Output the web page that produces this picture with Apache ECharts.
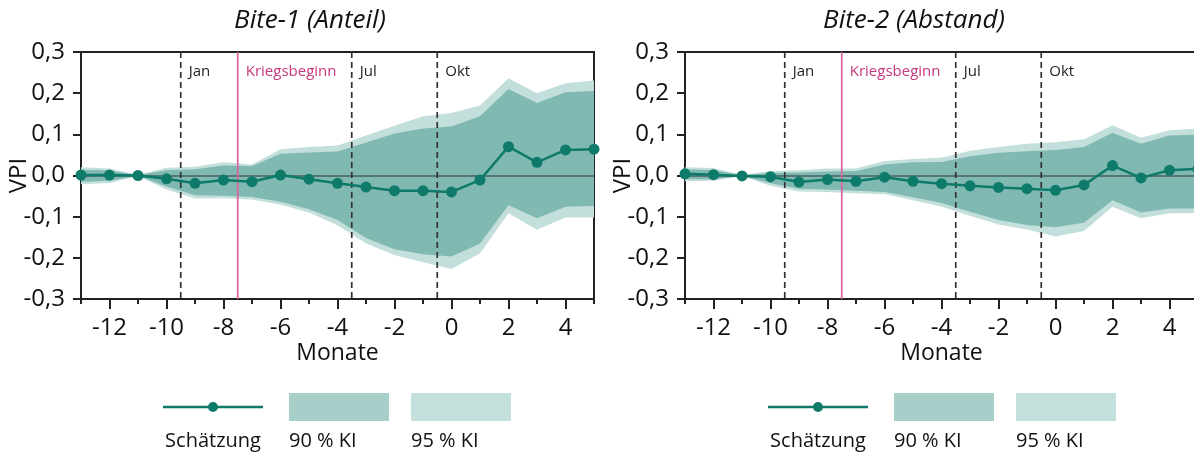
<!DOCTYPE html>
<html>
<head>
<meta charset="utf-8">
<script src="https://cdn.jsdelivr.net/npm/echarts@6/dist/echarts.min.js"></script>
<style>
html,body{margin:0;padding:0;background:#fff;}
#c{width:1194px;height:454px;}
</style>
</head>
<body>
<div id="c"></div>
<script>
// ---- data ----
const months = [-13,-12,-11,-10,-9,-8,-7,-6,-5,-4,-3,-2,-1,0,1,2,3,4,5];
const titles = ['Bite-1 (Anteil)', 'Bite-2 (Abstand)'];

const bite1Est  = [0.001, 0.001, 0.000, -0.008, -0.019, -0.011, -0.015, 0.001, -0.009, -0.019, -0.028, -0.037, -0.037, -0.040, -0.011, 0.070, 0.032, 0.062, 0.064];
const bite1Hi95 = [0.020, 0.017, 0.001, 0.019, 0.021, 0.032, 0.027, 0.064, 0.069, 0.073, 0.097, 0.121, 0.144, 0.152, 0.170, 0.236, 0.200, 0.224, 0.231];
const bite1Hi90 = [0.014, 0.012, 0.001, 0.013, 0.015, 0.024, 0.023, 0.053, 0.056, 0.058, 0.080, 0.102, 0.114, 0.119, 0.144, 0.210, 0.176, 0.202, 0.205];
const bite1Lo90 = [-0.015, -0.013, -0.001, -0.027, -0.048, -0.049, -0.052, -0.064, -0.082, -0.108, -0.152, -0.179, -0.191, -0.197, -0.165, -0.072, -0.104, -0.076, -0.074];
const bite1Lo95 = [-0.021, -0.018, -0.001, -0.034, -0.056, -0.055, -0.058, -0.071, -0.090, -0.121, -0.165, -0.193, -0.211, -0.227, -0.189, -0.092, -0.132, -0.102, -0.102];

const bite2Est  = [0.004, 0.002, -0.001, -0.003, -0.016, -0.010, -0.014, -0.004, -0.014, -0.020, -0.025, -0.029, -0.032, -0.036, -0.023, 0.024, -0.006, 0.013, 0.016];
const bite2Hi95 = [0.020, 0.018, 0.001, 0.011, 0.013, 0.017, 0.017, 0.035, 0.040, 0.043, 0.060, 0.069, 0.077, 0.081, 0.088, 0.122, 0.092, 0.110, 0.114];
const bite2Hi90 = [0.015, 0.013, 0.001, 0.006, 0.007, 0.010, 0.011, 0.027, 0.032, 0.033, 0.047, 0.055, 0.059, 0.062, 0.069, 0.104, 0.077, 0.097, 0.099];
const bite2Lo90 = [-0.009, -0.009, -0.001, -0.019, -0.032, -0.034, -0.037, -0.040, -0.053, -0.067, -0.088, -0.108, -0.120, -0.126, -0.115, -0.060, -0.090, -0.080, -0.080];
const bite2Lo95 = [-0.014, -0.013, -0.001, -0.025, -0.039, -0.040, -0.044, -0.045, -0.060, -0.075, -0.098, -0.119, -0.131, -0.148, -0.135, -0.076, -0.104, -0.092, -0.092];

const eventMonths = [-9.5, -3.5, -0.5];
const eventLabels = ['Jan', 'Jul', 'Okt'];
const warMonth = -7.5;
const warLabel = 'Kriegsbeginn';

const yMin = -0.3, yMax = 0.3, yStep = 0.1;
const legendLabels = ['Schätzung', '90 % KI', '95 % KI'];
const xName = 'Monate';
const yName = 'VPI';

// ---- styles ----
const FONT = '"Open Sans"';
const TEAL = '#0e7a69';
const C90 = '#80b9b2';
const C95 = '#c3dfdb';
const L90 = '#a6cfca';
const L95 = '#c4e0dc';
const AXIS = '#222';
const PINK = '#d9619f';

const chart = echarts.init(document.getElementById('c'), null, {renderer: 'canvas'});

const panels = [
  {est: bite1Est, hi95: bite1Hi95, hi90: bite1Hi90, lo90: bite1Lo90, lo95: bite1Lo95, left: 81},
  {est: bite2Est, hi95: bite2Hi95, hi90: bite2Hi90, lo90: bite2Lo90, lo95: bite2Lo95, left: 685}
];

const grids = [], xAxes = [], yAxes = [], series = [], graphics = [];
const catData = months.map(String);
const fmtY = v => v.toFixed(1).replace('.', ',');

panels.forEach((p, g) => {
  grids.push({left: p.left, top: 52, width: 513, height: 247, show: true, containLabel: false,
    outerBoundsMode: 'none',
    borderColor: AXIS, borderWidth: 2, backgroundColor: 'transparent'});
  xAxes.push({type: 'value', gridIndex: g, min: months[0], max: months[months.length - 1], show: false,
    axisLine: {onZero: false}});
  xAxes.push({type: 'category', gridIndex: g, data: catData, boundaryGap: false, position: 'bottom',
    axisLine: {show: true, onZero: false, lineStyle: {color: AXIS, width: 2}},
    axisTick: {show: true, length: 5, interval: 0, lineStyle: {color: AXIS, width: 2}},
    axisLabel: {show: false}, splitLine: {show: false}});
  const even = (i, v) => (+v) % 2 === 0;
  xAxes.push({type: 'category', gridIndex: g, data: catData, boundaryGap: false, position: 'bottom',
    axisLine: {show: false, onZero: false},
    axisTick: {show: true, length: 10, interval: even, lineStyle: {color: AXIS, width: 2}},
    axisLabel: {show: true, interval: even, margin: 17, fontFamily: FONT, fontSize: 24, color: '#111'},
    splitLine: {show: false},
    name: xName, nameLocation: 'middle', nameGap: 43, nameMoveOverlap: false,
    nameTextStyle: {fontFamily: FONT, fontSize: 23, color: '#111'}});
  yAxes.push({type: 'value', gridIndex: g, min: yMin, max: yMax, interval: yStep,
    axisLine: {show: true, onZero: false, lineStyle: {color: AXIS, width: 2}},
    axisTick: {show: true, length: 8, lineStyle: {color: AXIS, width: 2}},
    axisLabel: {formatter: fmtY, margin: 16, fontFamily: FONT, fontSize: 24, color: '#111'},
    splitLine: {show: false},
    name: yName, nameLocation: 'middle', nameGap: 50, nameMoveOverlap: false,
    nameTextStyle: {fontFamily: FONT, fontSize: 24, color: '#111'}});

  const xi = g * 3, yi = g;
  const band = (hi, lo, color, z) => ({
    type: 'custom', xAxisIndex: xi, yAxisIndex: yi, silent: true, z: z, clip: false,
    data: [[months[0], 0]],
    renderItem: (params, api) => {
      const pts = [];
      for (let i = 0; i < months.length; i++) pts.push(api.coord([months[i], hi[i]]));
      for (let i = months.length - 1; i >= 0; i--) pts.push(api.coord([months[i], lo[i]]));
      return {type: 'polygon', shape: {points: pts}, style: {fill: color}};
    }
  });
  series.push(band(p.hi95, p.lo95, C95, 1));
  series.push(band(p.hi90, p.lo90, C90, 2));

  series.push({
    type: 'custom', xAxisIndex: xi, yAxisIndex: yi, silent: true, z: 4, clip: false,
    data: eventMonths.map(m => [m, 0]).concat([[warMonth, 0]]),
    renderItem: (params, api) => {
      const x = api.value(0);
      const isWar = params.dataIndex === eventMonths.length;
      const label = isWar ? warLabel : eventLabels[params.dataIndex];
      const top = api.coord([x, yMax]);
      const bot = api.coord([x, yMin]);
      return {type: 'group', children: [
        {type: 'line', shape: {x1: top[0], y1: top[1], x2: bot[0], y2: bot[1]},
          style: {stroke: isWar ? PINK : '#333', lineWidth: 1.7, lineDash: isWar ? null : [6, 4]}},
        {type: 'text', x: top[0] + 8, y: top[1] + 20,
          style: {text: label, fill: isWar ? '#c8387c' : '#222', font: '15px ' + FONT,
            textAlign: 'left', textVerticalAlign: 'middle'}}
      ]};
    }
  });

  series.push({
    type: 'line', xAxisIndex: xi, yAxisIndex: yi, z: 5,
    data: months.map((m, i) => [m, p.est[i]]),
    symbol: 'circle', symbolSize: 11, showSymbol: true,
    itemStyle: {color: TEAL},
    lineStyle: {color: TEAL, width: 2.5},
    markLine: {silent: true, symbol: ['none', 'none'], label: {show: false},
      lineStyle: {color: '#47625f', width: 1.5, type: 'solid'}, data: [{yAxis: 0}], z: 3}
  });

  const off = g === 0 ? 0 : 604;
  graphics.push({type: 'text', x: 310 + off, y: 21,
    style: {text: titles[g], font: 'italic 26px ' + FONT, fill: '#111', textAlign: 'center', textVerticalAlign: 'middle'}});
  const lx = 163 + off + (g === 0 ? 0 : 1);
  graphics.push({type: 'line', shape: {x1: lx, y1: 407, x2: lx + 100, y2: 407}, style: {stroke: TEAL, lineWidth: 2.5}});
  graphics.push({type: 'circle', shape: {cx: lx + 50, cy: 407, r: 5}, style: {fill: TEAL}});
  graphics.push({type: 'rect', shape: {x: lx + 126, y: 393, width: 100, height: 28}, style: {fill: L90}});
  graphics.push({type: 'rect', shape: {x: lx + 248, y: 393, width: 100, height: 28}, style: {fill: L95}});
  graphics.push({type: 'text', x: lx + 50, y: 441, style: {text: legendLabels[0], font: '20px ' + FONT, fill: '#111', textAlign: 'center', textVerticalAlign: 'middle'}});
  graphics.push({type: 'text', x: lx + 126, y: 441, style: {text: legendLabels[1], font: '20px ' + FONT, fill: '#111', textAlign: 'left', textVerticalAlign: 'middle'}});
  graphics.push({type: 'text', x: lx + 248, y: 441, style: {text: legendLabels[2], font: '20px ' + FONT, fill: '#111', textAlign: 'left', textVerticalAlign: 'middle'}});
});

chart.setOption({
  animation: false,
  backgroundColor: '#fff',
  grid: grids,
  xAxis: xAxes,
  yAxis: yAxes,
  series: series,
  graphic: graphics
});
</script>
</body>
</html>
